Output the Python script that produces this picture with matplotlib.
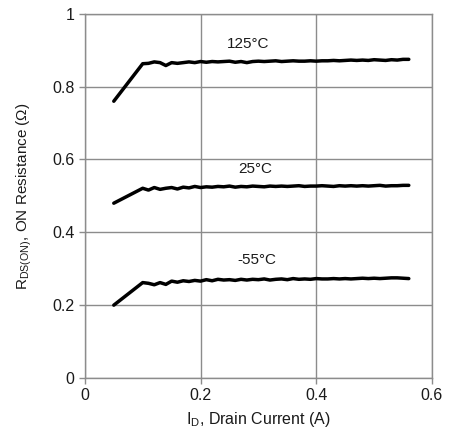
import numpy as np
import matplotlib
matplotlib.use('Agg')
import matplotlib.pyplot as plt

plt.rcParams['font.family'] = ['Liberation Sans', 'DejaVu Sans']
plt.rcParams['mathtext.fontset'] = 'custom'
plt.rcParams['mathtext.rm'] = 'Liberation Sans'

# Drain current (A)
current = [0.05] + [round(0.10 + 0.01 * i, 2) for i in range(47)]

# On resistance (ohm) at each temperature
r_125 = [0.760, 0.863, 0.864, 0.868, 0.866, 0.858, 0.866, 0.864, 0.866, 0.868,
         0.866, 0.869, 0.867, 0.869, 0.868, 0.869, 0.870, 0.867, 0.869, 0.866,
         0.869, 0.870, 0.869, 0.870, 0.871, 0.869, 0.870, 0.871, 0.870, 0.870,
         0.871, 0.870, 0.871, 0.871, 0.872, 0.871, 0.872, 0.873, 0.872, 0.873,
         0.872, 0.874, 0.873, 0.872, 0.874, 0.873, 0.875, 0.875]
r_25 = [0.480, 0.521, 0.516, 0.523, 0.518, 0.521, 0.523, 0.519, 0.524, 0.522,
        0.526, 0.523, 0.525, 0.524, 0.526, 0.525, 0.527, 0.524, 0.526, 0.525,
        0.527, 0.526, 0.525, 0.527, 0.526, 0.527, 0.526, 0.527, 0.528, 0.526,
        0.527, 0.527, 0.528, 0.527, 0.526, 0.528, 0.527, 0.528, 0.527, 0.528,
        0.527, 0.528, 0.529, 0.527, 0.528, 0.528, 0.529, 0.529]
r_m55 = [0.200, 0.262, 0.260, 0.256, 0.262, 0.257, 0.266, 0.263, 0.267, 0.265,
         0.268, 0.266, 0.270, 0.267, 0.271, 0.269, 0.270, 0.268, 0.271, 0.269,
         0.271, 0.270, 0.272, 0.269, 0.271, 0.272, 0.270, 0.273, 0.271, 0.272,
         0.271, 0.273, 0.272, 0.272, 0.273, 0.272, 0.273, 0.272, 0.273, 0.274,
         0.273, 0.274, 0.273, 0.274, 0.275, 0.275, 0.274, 0.273]

labels = ['125°C', '25°C', '-55°C']
label_x = [0.282, 0.294, 0.297]
label_y = [0.918, 0.574, 0.324]

grey = '#8c8c8c'
text_col = '#1a1a1a'

fig = plt.figure(figsize=(4.49, 4.32), dpi=100)
ax = fig.add_axes([0.189, 0.125, 0.773, 0.843])

for r in (r_125, r_25, r_m55):
    ax.plot(current, r, color='black', linewidth=2.5, solid_capstyle='round',
            solid_joinstyle='round')

for lab, lx, ly in zip(labels, label_x, label_y):
    ax.text(lx, ly, lab, fontsize=11, ha='center', va='center', color=text_col)

ax.set_xlim(0, 0.6)
ax.set_ylim(0, 1)
ax.set_xticks([0, 0.2, 0.4, 0.6])
ax.set_xticklabels(['0', '0.2', '0.4', '0.6'])
ax.set_yticks([0, 0.2, 0.4, 0.6, 0.8, 1])
ax.set_yticklabels(['0', '0.2', '0.4', '0.6', '0.8', '1'])
ax.grid(True, color=grey, linewidth=1.0)
ax.set_axisbelow(True)
for s in ax.spines.values():
    s.set_color(grey)
    s.set_linewidth(1.0)
ax.tick_params(colors=grey, labelcolor=text_col, labelsize=11.5, length=4, width=1.0)

ax.set_xlabel(r'I$_{\mathrm{D}}$, Drain Current (A)', fontsize=11.5, color=text_col, labelpad=5)
ax.set_ylabel(r'R$_{\mathrm{DS(ON)}}$, ON Resistance (Ω)', fontsize=11, color=text_col, labelpad=13)

fig.savefig('out.png', dpi=100)
